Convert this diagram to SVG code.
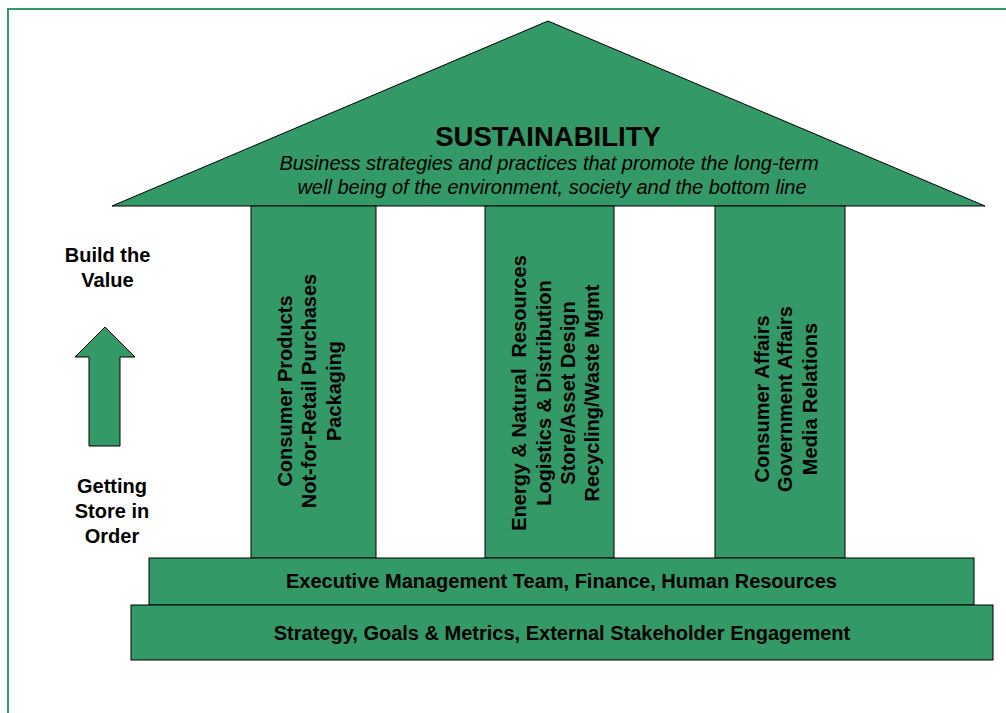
<svg xmlns="http://www.w3.org/2000/svg" width="1006" height="713" viewBox="0 0 1006 713">
<style>
.sh{fill:#339966;stroke:#000;stroke-width:1}
.t{font-family:"Liberation Sans",Arial,sans-serif;font-weight:bold;font-size:20px;fill:#000;text-anchor:middle}
.it{font-family:"Liberation Sans",Arial,sans-serif;font-style:italic;font-size:20px;fill:#000;text-anchor:middle}
</style>
<rect width="1006" height="713" fill="#fff"/>
<rect x="8" y="9" width="1010" height="720" fill="none" stroke="#339966" stroke-width="2"/>
<g id="roof">
<polygon class="sh" points="112,206 548,21 985,206"/>
<text class="t" x="548" y="146" style="font-size:27.5px">SUSTAINABILITY</text>
<text class="it" x="549" y="170">Business strategies and practices that promote the long-term</text>
<text class="it" x="552" y="194">well being of the environment, society and the bottom line</text>
</g>
<g id="pillar1">
<rect class="sh" x="251" y="206" width="125" height="352"/>
<text class="t" transform="translate(313,391) rotate(-90)"><tspan x="0" y="-21">Consumer Products</tspan><tspan x="0" y="3">Not-for-Retail Purchases</tspan><tspan x="0" y="28">Packaging</tspan></text>
</g>
<g id="pillar2">
<rect class="sh" x="485" y="206" width="129" height="352"/>
<text class="t" transform="translate(549.5,393) rotate(-90)" xml:space="preserve"><tspan x="0" y="-24">Energy &amp; Natural  Resources</tspan><tspan x="0" y="1">Logistics &amp; Distribution</tspan><tspan x="0" y="25">Store/Asset Design</tspan><tspan x="0" y="49">Recycling/Waste Mgmt</tspan></text>
</g>
<g id="pillar3">
<rect class="sh" x="715" y="206" width="130" height="352"/>
<text class="t" transform="translate(780,399) rotate(-90)"><tspan x="0" y="-11">Consumer Affairs</tspan><tspan x="0" y="12">Government Affairs</tspan><tspan x="0" y="37">Media Relations</tspan></text>
</g>
<g id="base1">
<rect class="sh" x="149" y="558" width="825" height="47"/>
<text class="t" x="561.5" y="588">Executive Management Team, Finance, Human Resources</text>
</g>
<g id="base2">
<rect class="sh" x="131" y="605" width="862" height="55"/>
<text class="t" x="562" y="640">Strategy, Goals &amp; Metrics, External Stakeholder Engagement</text>
</g>
<g id="label-top">
<text class="t" x="107.5" y="262"><tspan x="107.5">Build the</tspan><tspan x="107.5" y="287">Value</tspan></text>
</g>
<g id="arrow">
<polygon class="sh" points="105,327 135,357 120,357 120,446 89,446 89,357 75,357"/>
</g>
<g id="label-bottom">
<text class="t" x="112" y="493"><tspan x="112">Getting</tspan><tspan x="112" y="518">Store in</tspan><tspan x="112" y="543">Order</tspan></text>
</g>
</svg>
